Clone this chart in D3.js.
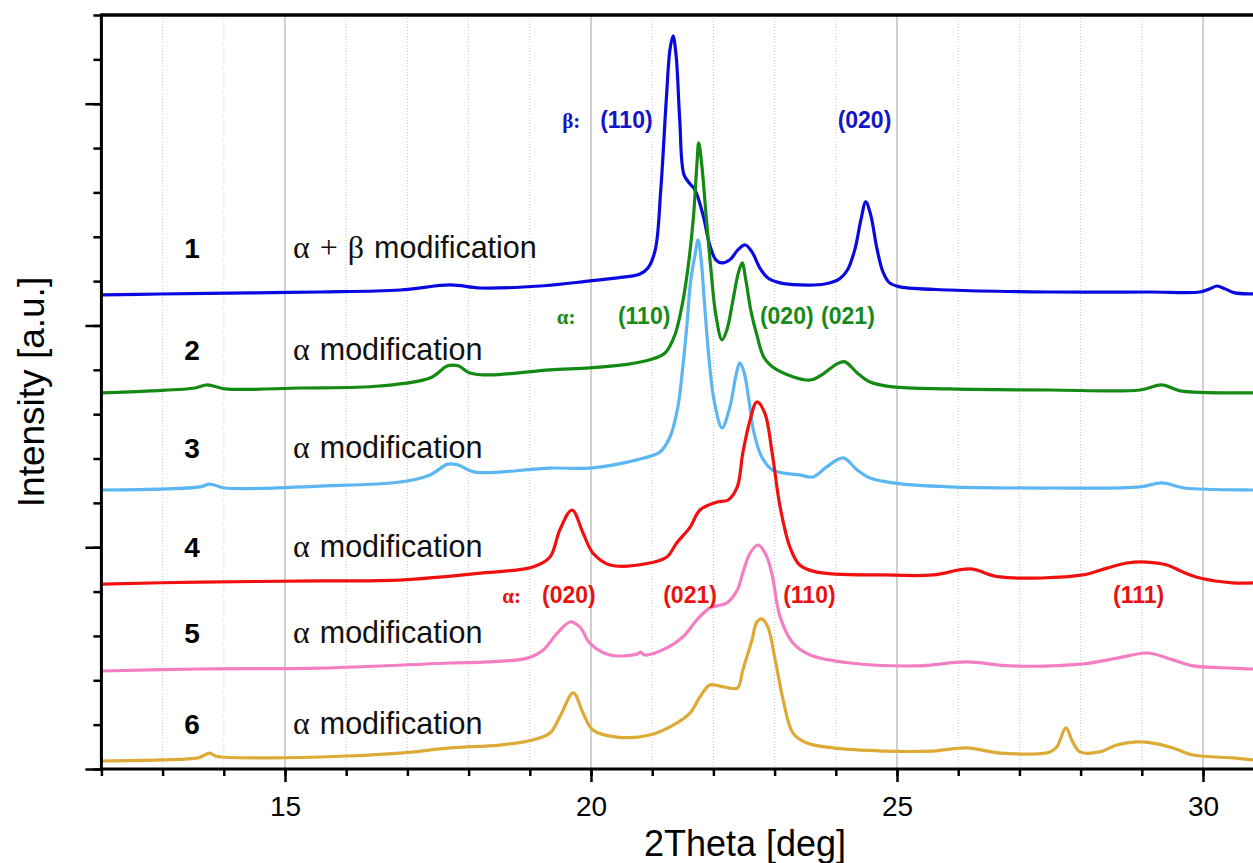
<!DOCTYPE html>
<html>
<head>
<meta charset="utf-8">
<title>XRD patterns</title>
<script src="https://cdnjs.cloudflare.com/ajax/libs/d3/7.8.5/d3.min.js"></script>
<style>
  body { margin: 0; background: #fff; }
  text { font-family: "Liberation Sans", Arial, sans-serif; }
</style>
</head>
<body>
<svg id="chart" width="1253" height="863"></svg>
<script>
// 2Theta [deg], intensity [a.u.] (curves stacked as shown)
var sample1 = [[12.01,2138],[12.96,2142],[14.43,2147],[15.57,2151],[16.88,2160],[17.70,2183],[18.19,2169],[19.17,2178],[19.99,2201],[20.56,2219],[20.80,2232],[20.93,2259],[21.05,2341],[21.14,2611],[21.23,3017],[21.29,3243],[21.34,3306],[21.39,3220],[21.45,2927],[21.52,2679],[21.62,2638],[21.70,2611],[21.83,2499],[21.94,2363],[22.04,2296],[22.14,2282],[22.27,2296],[22.40,2341],[22.52,2363],[22.63,2332],[22.76,2259],[22.89,2214],[23.09,2192],[23.41,2183],[23.82,2187],[24.06,2210],[24.19,2250],[24.31,2341],[24.41,2476],[24.49,2557],[24.57,2499],[24.67,2350],[24.77,2242],[24.88,2192],[25.05,2174],[25.86,2160],[27.50,2151],[29.13,2151],[29.95,2151],[30.11,2165],[30.23,2178],[30.36,2165],[30.52,2147],[30.82,2142],[31.0,2140]];
var sample2 = [[12.01,1696],[12.80,1705],[13.53,1718],[13.73,1732],[14.02,1714],[15.25,1718],[16.55,1727],[17.37,1763],[17.66,1818],[17.83,1818],[18.02,1786],[18.35,1777],[19.33,1800],[19.98,1809],[20.64,1827],[20.96,1845],[21.21,1876],[21.37,1957],[21.49,2093],[21.58,2250],[21.67,2476],[21.73,2724],[21.76,2823],[21.81,2724],[21.88,2499],[21.96,2250],[22.04,2048],[22.14,1935],[22.22,1980],[22.32,2115],[22.40,2228],[22.47,2282],[22.53,2205],[22.61,2070],[22.71,1957],[22.83,1854],[23.04,1800],[23.58,1754],[23.79,1781],[24.02,1827],[24.15,1836],[24.35,1786],[24.56,1745],[24.93,1723],[25.86,1714],[27.50,1709],[28.97,1709],[29.33,1732],[29.63,1705],[30.82,1696],[31.0,1696]];
var sample3 = [[12.01,1258],[13.61,1272],[13.77,1285],[14.02,1267],[15.57,1276],[16.88,1294],[17.37,1326],[17.66,1375],[17.83,1371],[18.10,1339],[19.33,1357],[19.98,1357],[20.75,1394],[21.13,1430],[21.29,1497],[21.42,1633],[21.50,1813],[21.57,2011],[21.63,2205],[21.70,2318],[21.75,2386],[21.80,2296],[21.85,2115],[21.93,1845],[22.01,1664],[22.14,1538],[22.27,1633],[22.37,1777],[22.43,1831],[22.50,1790],[22.58,1664],[22.66,1520],[22.79,1407],[22.97,1348],[23.41,1326],[23.63,1317],[23.85,1362],[24.12,1403],[24.35,1348],[24.56,1312],[24.93,1290],[25.86,1272],[27.50,1267],[28.97,1272],[29.33,1290],[29.70,1267],[30.82,1258],[31.0,1258]];
var sample4 = [[12.01,834],[13.61,843],[15.57,848],[16.88,852],[18.23,884],[19.05,911],[19.33,956],[19.49,1078],[19.69,1168],[19.87,1064],[20.03,974],[20.31,920],[20.96,929],[21.24,956],[21.40,1019],[21.62,1091],[21.78,1168],[22.06,1204],[22.24,1213],[22.39,1272],[22.48,1425],[22.60,1574],[22.71,1655],[22.84,1605],[22.96,1425],[23.09,1182],[23.25,1001],[23.41,920],[23.69,888],[24.77,875],[25.59,875],[26.19,902],[26.68,866],[28.04,875],[28.43,906],[28.76,929],[29.08,933],[29.41,920],[29.67,888],[29.95,861],[30.49,839],[30.82,839],[31.0,839]];
var sample5 = [[12.01,442],[13.61,451],[15.57,455],[17.70,478],[18.23,482],[18.96,500],[19.22,537],[19.45,613],[19.66,663],[19.82,640],[19.98,568],[20.31,514],[20.75,518],[20.81,527],[20.88,514],[21.24,546],[21.50,595],[21.73,672],[21.94,726],[22.22,749],[22.39,807],[22.48,884],[22.60,974],[22.73,1010],[22.86,965],[22.96,875],[23.09,686],[23.30,568],[23.58,514],[24.23,478],[25.33,465],[26.14,483],[26.85,465],[28.04,474],[28.60,500],[29.10,523],[29.51,492],[29.84,465],[30.49,455],[30.82,451],[31.0,451]];
var sample6 = [[12.01,36],[12.96,41],[13.58,50],[13.69,63],[13.77,72],[13.86,59],[13.97,54],[15.57,54],[16.88,72],[17.70,95],[18.51,108],[19.05,131],[19.33,162],[19.49,235],[19.71,343],[19.87,253],[20.03,176],[20.42,144],[20.96,153],[21.40,207],[21.62,253],[21.78,325],[21.94,379],[22.11,374],[22.39,365],[22.48,446],[22.63,582],[22.71,663],[22.79,677],[22.89,640],[23.01,492],[23.14,311],[23.30,162],[23.53,117],[23.96,95],[24.77,81],[25.59,81],[26.14,95],[26.68,72],[27.50,77],[27.61,99],[27.76,185],[27.87,122],[27.99,77],[28.31,77],[28.59,108],[28.92,122],[29.18,117],[29.51,95],[29.84,63],[30.49,50],[30.82,41],[31.0,41]];

var series = [sample1, sample2, sample3, sample4, sample5, sample6];
var sampleIds = ["1", "2", "3", "4", "5", "6"];
var phaseSymbols = [["α", "+", "β"], ["α"], ["α"], ["α"], ["α"], ["α"]];
var phaseWord = "modification";

// peak annotations: [phase prefix, reflections] per annotated curve
var peakSets = [
  { prefix: "β:", hkl: ["(110)", "(020)"] },
  { prefix: "α:", hkl: ["(110)", "(020)", "(021)"] },
  { prefix: "α:", hkl: ["(020)", "(021)", "(110)", "(111)"] }
];

var xTicksMajor = [15, 20, 25, 30];
var xTitle = "2Theta [deg]";
var yTitle = "Intensity [a.u.]";

// ---- layout / style ----
var colors = ["#0a0ae0", "#148a14", "#5cb6f2", "#f01010", "#f47ec2", "#deaa36"];
var labelColors = ["#1414c8", "#178a17", "#e81212"];
var sampleLabelPos = [[13.48, 2304], [13.48, 1844], [13.48, 1402], [13.48, 956], [13.48, 568], [13.48, 158]];
var phaseLabelX = 15.13;
var peakPrefixPos = [[19.53, 2890], [19.44, 2007], [18.55, 749]];
var peakHklX = [[20.15, 24.03], [20.44, 22.76, 23.76], [19.20, 21.18, 23.14, 28.53]];

var svg = d3.select("#chart");
var x = d3.scaleLinear().domain([12, 31]).range([101.4, 101.4 + 19 * 61.2]);
var y = d3.scaleLinear().domain([0, 3400]).range([769, 15]);

svg.append("rect").attr("width", 1253).attr("height", 863).attr("fill", "#fff");

// grid
var grid = svg.append("g");
grid.selectAll("line.minor")
  .data(d3.range(13, 31).filter(function (d) { return d % 5 !== 0; }))
  .enter().append("line")
  .attr("x1", function (d) { return x(d); }).attr("x2", function (d) { return x(d); })
  .attr("y1", y(0)).attr("y2", y(3400))
  .attr("stroke", "#c8c8c8").attr("stroke-width", 1)
  .attr("stroke-dasharray", "1,2");
grid.selectAll("line.major")
  .data(xTicksMajor)
  .enter().append("line")
  .attr("x1", function (d) { return x(d); }).attr("x2", function (d) { return x(d); })
  .attr("y1", y(0)).attr("y2", y(3400))
  .attr("stroke", "#b0b0b0").attr("stroke-width", 1.2);

// curves
var line = d3.line()
  .x(function (d) { return x(d[0]); })
  .y(function (d) { return y(d[1]); })
  .curve(d3.curveCatmullRom.alpha(0.5));

svg.append("g").selectAll("path")
  .data(series)
  .enter().append("path")
  .attr("d", line)
  .attr("fill", "none")
  .attr("stroke", function (d, i) { return colors[i]; })
  .attr("stroke-width", 3.2)
  .attr("stroke-linejoin", "round");

// axes
var xMinor = d3.axisBottom(x).tickValues(d3.range(12, 31)).tickSize(7).tickFormat("");
var xMajor = d3.axisBottom(x).tickValues(xTicksMajor).tickSize(13).tickPadding(14).tickFormat(d3.format("d"));
var yMinor = d3.axisLeft(y).tickValues(d3.range(0, 3401, 200)).tickSize(8).tickFormat("");
var yMajor = d3.axisLeft(y).tickValues([0, 1000, 2000, 3000]).tickSize(16).tickFormat("");

function styleAxis(g) {
  g.select(".domain").remove();
  g.selectAll(".tick line").attr("stroke", "#000").attr("stroke-width", 2.5);
  g.selectAll(".tick text").attr("fill", "#000")
    .style("font-family", "Liberation Sans, Arial, sans-serif").style("font-size", "28px");
}
svg.append("g").attr("transform", "translate(0," + y(0) + ")").call(xMinor).call(styleAxis);
svg.append("g").attr("transform", "translate(0," + y(0) + ")").call(xMajor).call(styleAxis);
svg.append("g").attr("transform", "translate(" + x(12) + ",0)").call(yMinor).call(styleAxis);
svg.append("g").attr("transform", "translate(" + x(12) + ",0)").call(yMajor).call(styleAxis);

// spines
svg.append("line").attr("x1", x(12)).attr("x2", x(31)).attr("y1", y(0)).attr("y2", y(0))
  .attr("stroke", "#000").attr("stroke-width", 3);
svg.append("line").attr("x1", x(12)).attr("x2", x(12)).attr("y1", y(0) + 1.5).attr("y2", y(3400) - 1.5)
  .attr("stroke", "#000").attr("stroke-width", 3);
svg.append("line").attr("x1", x(12)).attr("x2", x(31)).attr("y1", y(3400)).attr("y2", y(3400))
  .attr("stroke", "#000").attr("stroke-width", 3.5);

// axis titles
svg.append("text")
  .attr("x", 745).attr("y", 856)
  .attr("text-anchor", "middle")
  .style("font-size", "36px").attr("fill", "#000")
  .text(xTitle);
svg.append("text")
  .attr("transform", "translate(44,392) rotate(-90)")
  .attr("text-anchor", "middle")
  .style("font-size", "37px").attr("fill", "#000")
  .text(yTitle);

// sample labels
var lab = svg.append("g");
sampleIds.forEach(function (id, i) {
  var p = sampleLabelPos[i];
  lab.append("text")
    .attr("x", x(p[0])).attr("y", y(p[1]))
    .attr("text-anchor", "middle")
    .style("font-size", "28px").style("font-weight", "bold")
    .attr("fill", "#000").text(id);
  var t = lab.append("text")
    .attr("x", x(phaseLabelX)).attr("y", y(p[1]))
    .style("font-size", "30.5px").attr("fill", "#111");
  phaseSymbols[i].forEach(function (s, j) {
    t.append("tspan")
      .attr("dx", j === 0 ? 0 : 10)
      .style("font-family", "Liberation Serif, Times New Roman, serif")
      .style("font-size", "32px").text(s);
  });
  t.append("tspan").attr("dx", 10).text(phaseWord);
});

// peak annotations
peakSets.forEach(function (s, k) {
  var p = peakPrefixPos[k];
  svg.append("text")
    .attr("x", x(p[0])).attr("y", y(p[1]))
    .style("font-family", "Liberation Serif, Times New Roman, serif")
    .style("font-size", "21px").style("font-weight", "bold")
    .attr("fill", labelColors[k]).text(s.prefix);
  s.hkl.forEach(function (h, j) {
    svg.append("text")
      .attr("x", x(peakHklX[k][j])).attr("y", y(p[1]))
      .style("font-size", "23px").style("font-weight", "bold")
      .attr("fill", labelColors[k]).text(h);
  });
});
</script>
</body>
</html>
